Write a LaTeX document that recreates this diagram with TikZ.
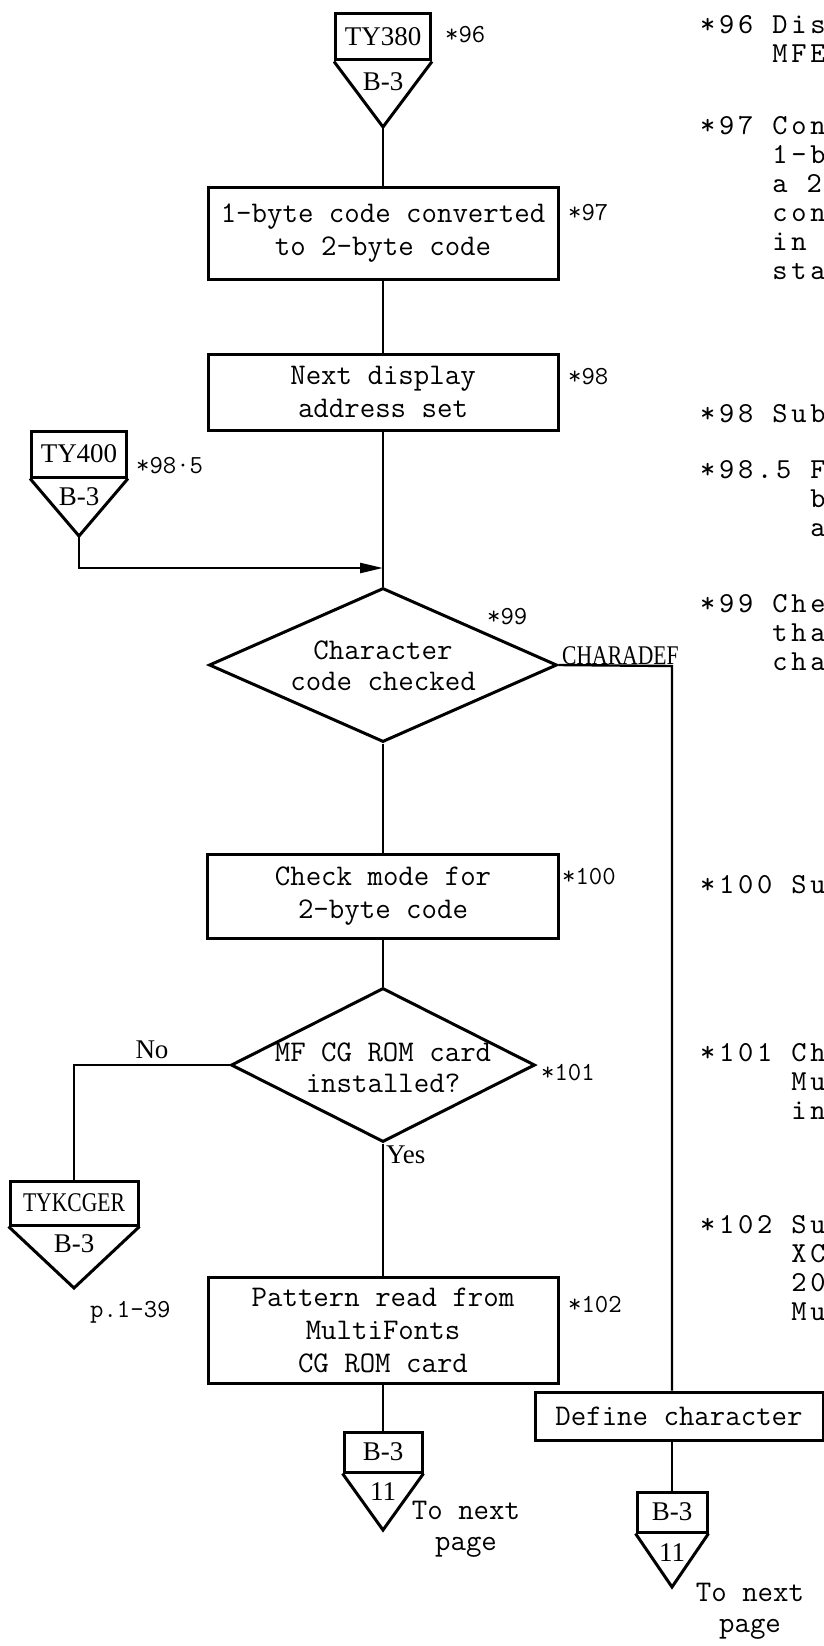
\documentclass[tikz,border=0pt]{standalone}
\usepackage{fontspec}
\usetikzlibrary{shapes.geometric, arrows.meta}
\newfontfamily\labelserif{Liberation Serif}
\newfontfamily\narrowserif[FakeStretch=0.8]{Liberation Serif}
\newfontfamily\notemono{lmmono10-regular}[Extension=.otf, LetterSpace=13]
\newcommand{\boxfont}{\fontsize{30}{33}\selectfont\ttfamily}
\newcommand{\dfont}{\fontsize{30}{31}\selectfont\ttfamily}
\newcommand{\labelfont}{\fontsize{27}{29}\selectfont\labelserif}
\newcommand{\narrowfont}{\fontsize{27}{29}\selectfont\narrowserif}
\newcommand{\reffont}{\fontsize{26}{28}\selectfont\ttfamily}
\newcommand{\notefont}{\fontsize{29}{29}\selectfont\notemono}
\begin{document}
\begin{tikzpicture}[x=1pt, y=-1pt,
        proc/.style={rectangle, draw, line width=3pt, inner sep=0pt, align=center, font=\boxfont},
        decision/.style={diamond, draw, line width=3pt, inner sep=0pt},
        dtext/.style={align=center, font=\dfont, inner sep=0pt},
        offbox/.style={rectangle, draw, line width=3pt, inner sep=0pt, font=\labelfont},
        offtext/.style={font=\labelfont, inner sep=0pt},
        border/.style={line width=3pt, line join=miter},
        line/.style={line width=2.4pt},
        arrow/.style={line width=2.4pt, -{Triangle[length=23pt, width=10pt]}},
        ref/.style={font=\reffont, anchor=west, inner sep=0pt},
        note/.style={font=\notefont, anchor=north west, align=left, inner sep=0pt}
    ]
    \useasboundingbox (0,0) rectangle (824,1646);

    % Off-page connector in
    \node[offbox, minimum width=95, minimum height=46] (ty380) at (383,37) {TY380};
    \coordinate (ty380tip) at (383,127);
    \draw[border] (ty380.south west) -- (ty380tip) -- (ty380.south east);
    \node[offtext] (ty380pg) at (383,82) {B-3};
    \node[ref] (r96) at (445,35) {*96};

    % Processing boxes
    \node[proc, minimum width=350, minimum height=92] (conv) at (383,233) {1-byte code converted\\to 2-byte code};
    \node[ref] (r97) at (568,213) {*97};
    \node[proc, minimum width=350, minimum height=76] (disp) at (383,392) {Next display\\address set};
    \node[ref] (r98) at (568,377) {*98};

    \draw[line] (ty380tip) -- (conv);
    \draw[line] (conv) -- (disp);

    % Second entry
    \node[offbox, minimum width=95, minimum height=46] (ty400) at (79,454) {TY400};
    \coordinate (ty400tip) at (79,536);
    \draw[border] (ty400.south west) -- (ty400tip) -- (ty400.south east);
    \node[offtext] (ty400pg) at (79,497) {B-3};
    \node[ref] (r985) at (136,466) {*98·5};

    \coordinate (join) at (383,568);
    \draw[arrow] (ty400tip) |- (join);

    % Character code check
    \node[decision, minimum width=348, minimum height=154] (chkcode) at (383,665) {};
    \node[dtext] (chkcodetxt) at (383,666) {Character\\code checked};
    \node[ref] (r99) at (487,617) {*99};
    \draw[line] (disp) -- (chkcode);

    \coordinate (chardef) at (672,666);
    \node[offtext, font=\narrowfont, anchor=south west] (chardeflbl) at (562,665) {CHARADEF};

    \node[proc, minimum width=351, minimum height=84] (chkmode) at (383,896) {Check mode for\\2-byte code};
    \node[ref] (r100) at (562,877) {*100};
    \draw[line] (chkcode) -- (chkmode);

    \node[decision, minimum width=304, minimum height=154] (cgrom) at (383,1065) {};
    \node[dtext] (cgromtxt) at (383,1068) {MF CG ROM card\\installed?};
    \node[ref] (r101) at (541,1073) {*101};
    \draw[line] (chkmode) -- (cgrom);

    % No branch
    \node[offbox, font=\narrowfont, minimum width=128, minimum height=44] (tykcger) at (74,1203) {TYKCGER};
    \coordinate (tykcgertip) at (74,1288);
    \draw[border] (tykcger.south west) -- (tykcgertip) -- (tykcger.south east);
    \node[offtext] (tykcgerpg) at (74,1244) {B-3};
    \node[ref] (p139) at (90,1312) {p.1-39};

    \coordinate (nocorner) at (74,1065);
    \draw[line] (cgrom.west) -- (nocorner) -- (tykcger.north);
    \node[offtext] (nolbl) at (152,1050) {No};

    % Yes branch
    \node[proc, minimum width=350, minimum height=106] (readpat) at (383,1330) {Pattern read from\\MultiFonts\\CG ROM card};
    \node[ref] (r102) at (568,1305) {*102};
    \draw[line] (cgrom) -- (readpat);
    \node[offtext, anchor=west] (yeslbl) at (386,1155) {Yes};

    \node[offbox, minimum width=78, minimum height=40] (out1) at (383,1452) {B-3};
    \coordinate (out1tip) at (383,1530);
    \draw[border] (out1.south west) -- (out1tip) -- (out1.south east);
    \node[offtext] (out1pg) at (383,1492) {11};
    \node[dtext] (out1note) at (466,1529) {To next\\page};
    \draw[line] (readpat) -- (out1);

    % CHARADEF branch
    \node[proc, minimum width=288, minimum height=48] (defchar) at (679,1416) {Define character};
    \draw[line] (chkcode.east) -- (chardef) -- (chardef |- defchar.north);

    \node[offbox, minimum width=70, minimum height=40] (out2) at (672,1512) {B-3};
    \coordinate (out2tip) at (672,1587);
    \draw[border] (out2.south west) -- (out2tip) -- (out2.south east);
    \node[offtext] (out2pg) at (672,1553) {11};
    \node[dtext] (out2note) at (750,1611) {To next\\page};
    \draw[line] (defchar.south -| out2) -- (out2);

    % Notes on the right
    \node[note] (n96) at (700,15) {*96 Dis\\\phantom{*96 }MFE};
    \node[note] (n97) at (700,116) {*97 Con\\\phantom{*97 }1-b\\\phantom{*97 }a 2\\\phantom{*97 }con\\\phantom{*97 }in\\\phantom{*97 }sta};
    \node[note] (n98) at (700,404) {*98 Sub};
    \node[note] (n985) at (700,460) {*98.5 F\\\phantom{*98.5 }b\\\phantom{*98.5 }a};
    \node[note] (n99) at (700,594) {*99 Che\\\phantom{*99 }tha\\\phantom{*99 }cha};
    \node[note] (n100) at (700,875) {*100 Su};
    \node[note] (n101) at (700,1043) {*101 Ch\\\phantom{*101 }Mu\\\phantom{*101 }in};
    \node[note] (n102) at (700,1215) {*102 Su\\\phantom{*102 }XC\\\phantom{*102 }20\\\phantom{*102 }Mu};

\end{tikzpicture}
\end{document}
